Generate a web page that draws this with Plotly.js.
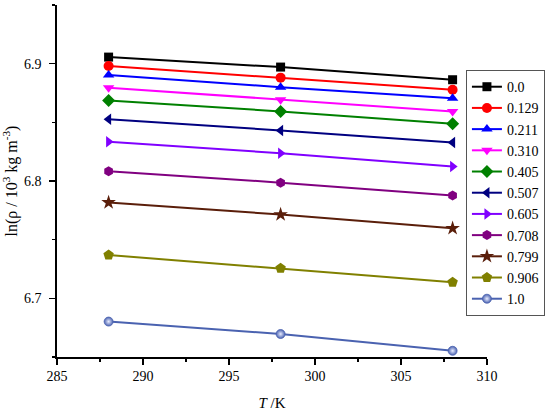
<!DOCTYPE html>
<html>
<head>
<meta charset="utf-8">
<script src="https://cdn.plot.ly/plotly-3.0.1.min.js"></script>
<style>html,body{margin:0;padding:0;background:#fff;}#chart{width:550px;height:413px;}</style>
</head>
<body>
<div id="chart"></div>
<script>
const temperatures = [288, 298, 308];
const seriesNames = ["0.0", "0.129", "0.211", "0.310", "0.405", "0.507", "0.605", "0.708", "0.799", "0.906", "1.0"];
const s0_0   = [6.9056, 6.8971, 6.8863];
const s0_129 = [6.8980, 6.8881, 6.8778];
const s0_211 = [6.8903, 6.8800, 6.8706];
const s0_310 = [6.8795, 6.8693, 6.8593];
const s0_405 = [6.8687, 6.8593, 6.8488];
const s0_507 = [6.8527, 6.8431, 6.8328];
const s0_605 = [6.8334, 6.8237, 6.8124];
const s0_708 = [6.8084, 6.7986, 6.7876];
const s0_799 = [6.7817, 6.7714, 6.7597];
const s0_906 = [6.7369, 6.7256, 6.7137];
const s1_0   = [6.6802, 6.6696, 6.6553];
const seriesValues = [s0_0, s0_129, s0_211, s0_310, s0_405, s0_507, s0_605, s0_708, s0_799, s0_906, s1_0];
const xTickVals = [285, 290, 295, 300, 305, 310];
const yTickVals = [6.7, 6.8, 6.9];

const colors = ["#000000", "#ff0000", "#0000ff", "#ff00ff", "#008000", "#000080", "#8000ff", "#800080", "#5a1e0a", "#808000", "#4a62b0"];
const symbols = ["square", "circle", "triangle-up", "triangle-down", "diamond", "triangle-left", "triangle-right", "hexagon", "star", "pentagon", "circle"];
const sizes = [9, 10, 10, 10, 10, 10, 10, 10, 11, 11, 9];

const traces = seriesNames.map((name, i) => {
  const m = {symbol: symbols[i], size: sizes[i], color: colors[i], line: {width: 0}};
  if (i === seriesNames.length - 1) {
    m.gradient = {type: 'radial', color: '#e8ecff'};
    m.line = {width: 0.8, color: colors[i]};
  }
  return {
    x: temperatures, y: seriesValues[i], name: name, type: 'scatter', mode: 'lines+markers',
    line: {color: colors[i], width: 2}, marker: m
  };
});

const fam = 'Liberation Serif, serif';
const layout = {
  width: 550, height: 413,
  margin: {l: 57, r: 60, t: 5, b: 56},
  paper_bgcolor: '#fff', plot_bgcolor: '#fff',
  font: {family: fam, size: 14, color: '#000'},
  showlegend: true,
  legend: {
    x: 0.951, y: 0.815, xanchor: 'left', yanchor: 'top',
    bordercolor: '#555', borderwidth: 1, bgcolor: '#fff',
    font: {family: fam, size: 14, color: '#000'},
    tracegroupgap: 0, itemwidth: 30
  },
  xaxis: {
    range: [285, 310], tickvals: xTickVals, ticktext: xTickVals.map(String),
    showline: true, linecolor: '#000', linewidth: 1.6, mirror: false,
    ticks: 'outside', ticklen: 6, tickwidth: 1.6, tickcolor: '#000',
    minor: {ticks: 'outside', dtick: 2.5, tick0: 285, ticklen: 3, tickwidth: 1.4, tickcolor: '#000', showgrid: false},
    showgrid: false, zeroline: false,
    tickfont: {family: fam, size: 14},
    title: {text: '<i>T</i> /K', font: {family: fam, size: 15}, standoff: 14}
  },
  yaxis: {
    range: [6.65, 6.95], tickvals: yTickVals, ticktext: ['6.7', '6.8', '6.9'],
    showline: true, linecolor: '#000', linewidth: 1.6, mirror: false,
    ticks: 'outside', ticklen: 6, tickwidth: 1.6, tickcolor: '#000',
    ticklabelstandoff: 5,
    minor: {ticks: 'outside', dtick: 0.05, tick0: 6.65, ticklen: 3, tickwidth: 1.4, tickcolor: '#000', showgrid: false},
    showgrid: false, zeroline: false,
    tickfont: {family: fam, size: 14},
    title: {text: 'ln(ρ / 10<sup>3</sup> kg m<sup>-3</sup>)', font: {family: fam, size: 16}, standoff: 3}
  }
};

Plotly.newPlot('chart', traces, layout, {displayModeBar: false, staticPlot: true});
</script>
</body>
</html>
